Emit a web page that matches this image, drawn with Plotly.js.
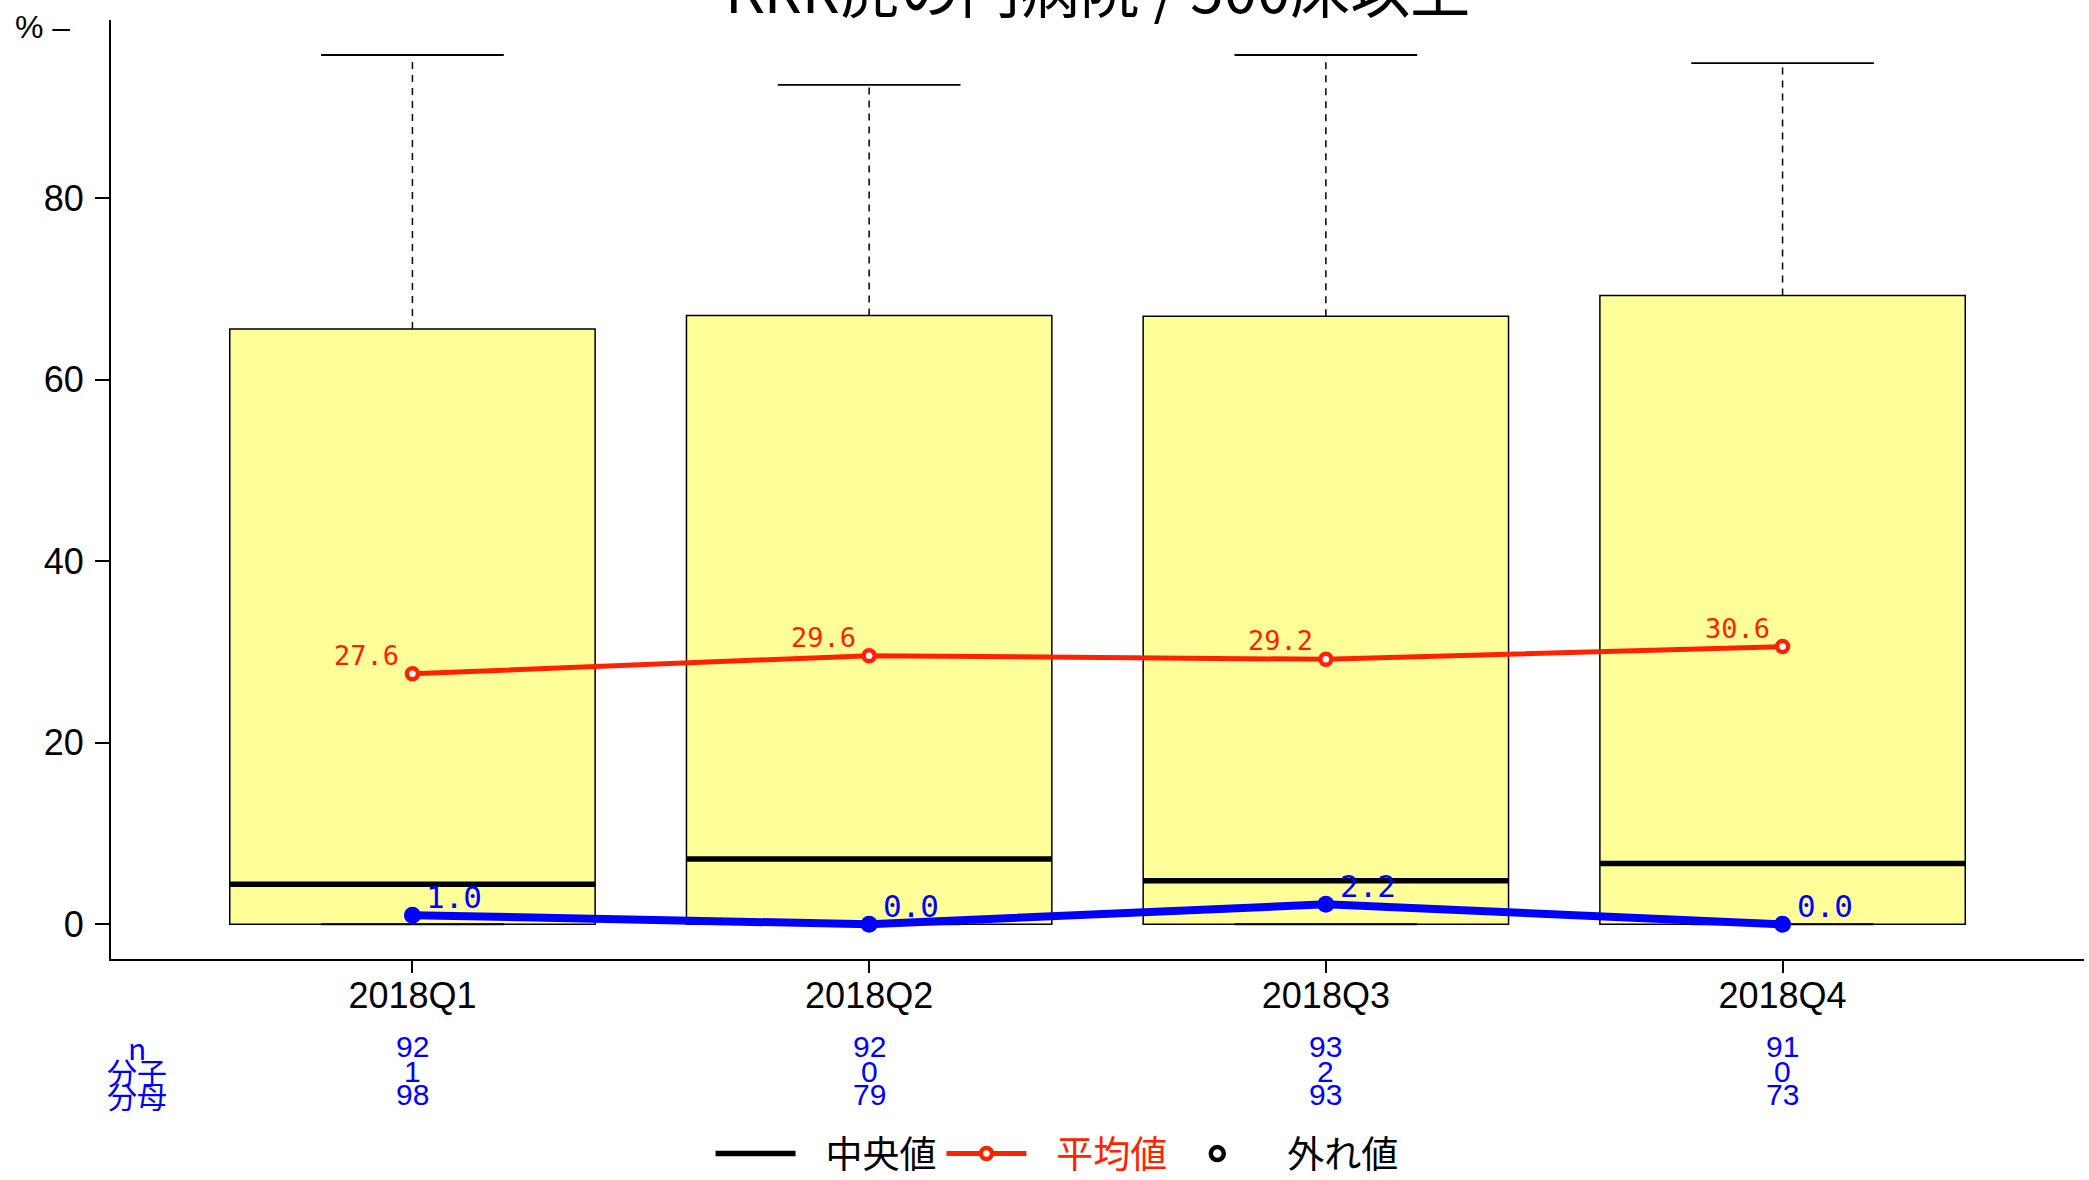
<!DOCTYPE html>
<html><head><meta charset="utf-8">
<script src="https://cdn.plot.ly/plotly-3.0.1.min.js"></script>
<style>html,body{margin:0;padding:0;background:#fff;} #chart{width:2089px;height:1180px;}</style>
</head><body><div id="chart"></div>
<script>
// ---- data ----
const categories = ['2018Q1', '2018Q2', '2018Q3', '2018Q4'];
const boxLower = [0, 0, 0, 0];
const boxMedian = [4.4, 7.2, 4.8, 6.7];
const boxUpper = [65.6, 67.1, 67.0, 69.3];
const whiskerLow = [0, 0, 0, 0];
const whiskerHigh = [95.8, 92.5, 95.8, 94.9];
const meanValues = [27.6, 29.6, 29.2, 30.6];
const rateValues = [1.0, 0.0, 2.2, 0.0];
const nValues = [92, 92, 93, 91];
const numerators = [1, 0, 2, 0];
const denominators = [98, 79, 93, 73];
const rowLabels = ['n', '分子', '分母'];
const yTickVals = [0, 20, 40, 60, 80];
const titleText = 'KRR虎の門病院 / 500床以上';
const legendNames = ['中央値', '平均値', '外れ値'];

// ---- styles ----
const RED = '#ff2200';
const BLUE = '#0000ff';
const LAT = '"Liberation Sans", Arial, sans-serif';
const CJK = '"Noto Sans CJK JP", "Noto Sans", sans-serif';
const MONO = '"DejaVu Sans Mono", "Liberation Mono", monospace';
const BOXW = 0.8, CAPW = 0.4;
const GAP = '\u00a0\u00a0\u00a0';

const pos = categories.map((c, i) => i);

// median segments, whiskers and caps built from the arrays
const medX = [], medY = [], whX = [], whY = [], capX = [], capY = [];
pos.forEach((p, i) => {
  medX.push(p - BOXW / 2, p + BOXW / 2, null); medY.push(boxMedian[i], boxMedian[i], null);
  whX.push(p, p, null); whY.push(boxUpper[i], whiskerHigh[i], null);
  whX.push(p, p, null); whY.push(boxLower[i], whiskerLow[i], null);
  capX.push(p - CAPW / 2, p + CAPW / 2, null); capY.push(whiskerHigh[i], whiskerHigh[i], null);
  capX.push(p - CAPW / 2, p + CAPW / 2, null); capY.push(whiskerLow[i], whiskerLow[i], null);
});

const traces = [
  {type: 'scatter', x: whX, y: whY, mode: 'lines', line: {color: '#000', width: 1.5, dash: '7px,6px'},
   showlegend: false, hoverinfo: 'skip'},
  {type: 'scatter', x: capX, y: capY, mode: 'lines', line: {color: '#000', width: 1.8},
   showlegend: false, hoverinfo: 'skip'},
  {type: 'box', x: pos, q1: boxLower, median: boxMedian, q3: boxUpper,
   lowerfence: boxLower, upperfence: boxUpper, width: BOXW, whiskerwidth: 0,
   fillcolor: '#FFFF99', line: {color: '#000', width: 1.5}, boxpoints: false,
   showlegend: false, hoverinfo: 'skip'},
  {type: 'scatter', x: medX, y: medY, mode: 'lines', line: {color: '#000', width: 5.5},
   name: GAP + legendNames[0], showlegend: true, hoverinfo: 'skip'},
  {type: 'scatter', x: pos, y: meanValues, mode: 'lines+markers',
   line: {color: RED, width: 5},
   marker: {symbol: 'circle', size: 11, color: '#fff', line: {color: RED, width: 4.5}},
   name: GAP + '<span style="color:' + RED + '">' + legendNames[1] + '</span>', showlegend: true},
  {type: 'scatter', x: [null], y: [null], mode: 'markers',
   marker: {symbol: 'circle-open', size: 13, color: '#000', line: {color: '#000', width: 4.5}},
   name: GAP + legendNames[2], showlegend: true},
  {type: 'scatter', x: pos, y: rateValues, mode: 'lines+markers',
   line: {color: BLUE, width: 8}, marker: {size: 17, color: BLUE},
   showlegend: false}
];

const annotations = [];
pos.forEach((p, i) => {
  annotations.push({xref: 'x', yref: 'y', x: p, y: meanValues[i], text: meanValues[i].toFixed(1),
    showarrow: false, xanchor: 'right', yanchor: 'bottom', xshift: -11, yshift: 1,
    font: {family: MONO, size: 27, color: RED}});
  annotations.push({xref: 'x', yref: 'y', x: p, y: rateValues[i], text: rateValues[i].toFixed(1),
    showarrow: false, xanchor: 'left', yanchor: 'bottom', xshift: 12, yshift: -2,
    font: {family: MONO, size: 31, color: BLUE}});
});
const rowY = [-0.0937, -0.1193, -0.1448];
const rowVals = [nValues, numerators, denominators];
rowVals.forEach((vals, r) => {
  pos.forEach((p, i) => {
    annotations.push({xref: 'x', yref: 'paper', x: p, y: rowY[r], text: String(vals[i]),
      showarrow: false, xanchor: 'center', yanchor: 'middle',
      font: {family: LAT, size: 30, color: BLUE}});
  });
  annotations.push({xref: 'paper', yref: 'paper', x: 0.0132, y: rowY[r], text: rowLabels[r],
    showarrow: false, xanchor: 'center', yanchor: 'middle',
    font: {family: CJK, size: 30, color: BLUE}});
});
annotations.push({xref: 'paper', yref: 'paper', x: -0.0495, y: 0.993, text: '% –',
  showarrow: false, xanchor: 'left', yanchor: 'middle',
  font: {family: LAT, size: 32, color: '#000'}});
// chart title (placed as an annotation so it can sit partly above the top edge like the reference)
annotations.push({xref: 'paper', yref: 'paper', x: 0.5, y: 1, yshift: 34, text: titleText,
  showarrow: false, xanchor: 'center', yanchor: 'middle',
  font: {family: CJK, size: 60, color: '#000'}});

const layout = {
  width: 2089, height: 1180,
  margin: {l: 111, r: 5, t: 20, b: 221, pad: 0, autoexpand: false},
  paper_bgcolor: '#fff', plot_bgcolor: '#fff',
  xaxis: {type: 'linear', range: [-0.66, 3.66], tickvals: pos, ticktext: categories,
    showgrid: false, zeroline: false, showline: true, linecolor: '#000', linewidth: 2,
    ticks: 'outside', ticklen: 12, tickwidth: 2, tickcolor: '#000', ticklabelstandoff: -8,
    tickfont: {family: LAT, size: 36, color: '#000'}},
  yaxis: {range: [-3.83, 99.66], tickvals: yTickVals, ticktext: yTickVals.map(String),
    showgrid: false, zeroline: false, showline: true, linecolor: '#000', linewidth: 2,
    ticks: 'outside', ticklen: 14, tickwidth: 2, tickcolor: '#000', ticklabelstandoff: 4,
    tickfont: {family: LAT, size: 36, color: '#000'}},
  showlegend: true,
  legend: {orientation: 'h', xref: 'paper', x: 0.4795, xanchor: 'center',
    yref: 'container', y: 0.022, yanchor: 'middle', itemwidth: 80,
    font: {family: CJK, size: 37, color: '#000'}, bgcolor: 'rgba(0,0,0,0)', traceorder: 'normal'},
  annotations: annotations
};

Plotly.newPlot('chart', traces, layout, {displayModeBar: false, staticPlot: true});
</script>
</body></html>
